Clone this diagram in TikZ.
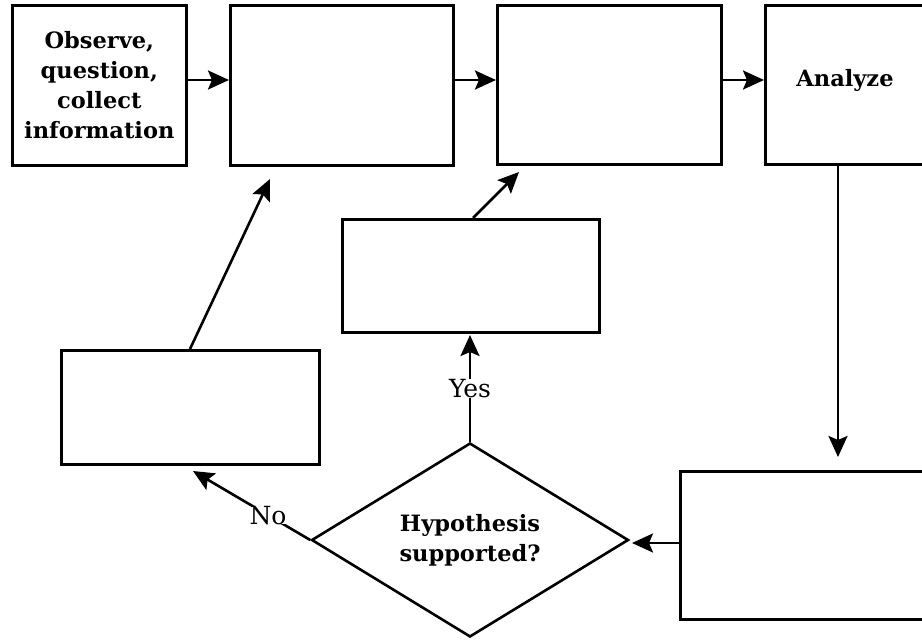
\documentclass[tikz,border=0pt]{standalone}
\usepackage{fontspec}
\setmainfont{DejaVu Serif}
\usetikzlibrary{arrows.meta,shapes.geometric}
\begin{document}
\begin{tikzpicture}[x=1pt,y=-1pt,
  line width=2.6pt,
  box/.style={draw,rectangle,inner sep=0pt,anchor=north west,align=center},
  lbl/.style={font=\bfseries\fontsize{22.5}{30}\selectfont},
  flow/.style={-{Stealth[length=21pt,width=19pt,inset=4pt]},line width=2.6pt},
  tag/.style={font=\fontsize{25}{26}\selectfont,fill=white,inner sep=0pt}]
\useasboundingbox (0,0) rectangle (922,643);
\clip (0,0) rectangle (922,643);
% top row
\node[box,minimum width=174pt,minimum height=160pt,lbl] (obs) at (11,4)
  {Observe,\\question,\\collect\\information};
\node[box,minimum width=223pt,minimum height=160pt] (b2) at (229,4) {};
\node[box,minimum width=224pt,minimum height=159pt] (b3) at (496,4) {};
\node[box,minimum width=200pt,minimum height=159pt] (an) at (764,4) {};
\node[lbl,anchor=center] (antext) at (845,80) {Analyze};
% lower boxes
\node[box,minimum width=260pt,minimum height=148pt] (b5) at (679,470) {};
\node[box,minimum width=257pt,minimum height=113pt] (b6) at (341,218) {};
\node[box,minimum width=258pt,minimum height=114pt] (b7) at (60,349) {};
% decision
\node[draw,diamond,aspect=1.64,minimum width=317pt,minimum height=194pt,inner sep=0pt,
  lbl,align=center] (dec) at (470,540) {Hypothesis\\supported?};
% helper points for arrow tips
\coordinate (t1) at (229,80);
\coordinate (t2) at (496,80);
\coordinate (t3) at (764,80);
\coordinate (s4) at (838,163);
\coordinate (t4) at (838,457);
\coordinate (s5) at (679,543);
\coordinate (t5) at (632,543);
\coordinate (t6) at (470,335);
\coordinate (s7) at (473,218);
\coordinate (t7) at (519,172);
\coordinate (s8) at (190,349);
\coordinate (t8) at (270,179);
\coordinate (t9) at (193,471);
% connectors
\draw[flow] (obs.east |- t1) -- (t1);
\draw[flow] (b2.east |- t2) -- (t2);
\draw[flow] (b3.east |- t3) -- (t3);
\draw[flow] (s4) -- (t4);
\draw[flow] (s5) -- (t5);
\draw[flow] (dec.north) -- node[tag,pos=0.5] (yes) {Yes} (t6);
\draw[flow] (s7) -- (t7);
\draw[flow] (s8) -- (t8);
\draw[flow] (dec.west) -- node[tag,pos=0.36] (no) {No} (t9);
\end{tikzpicture}
\end{document}
